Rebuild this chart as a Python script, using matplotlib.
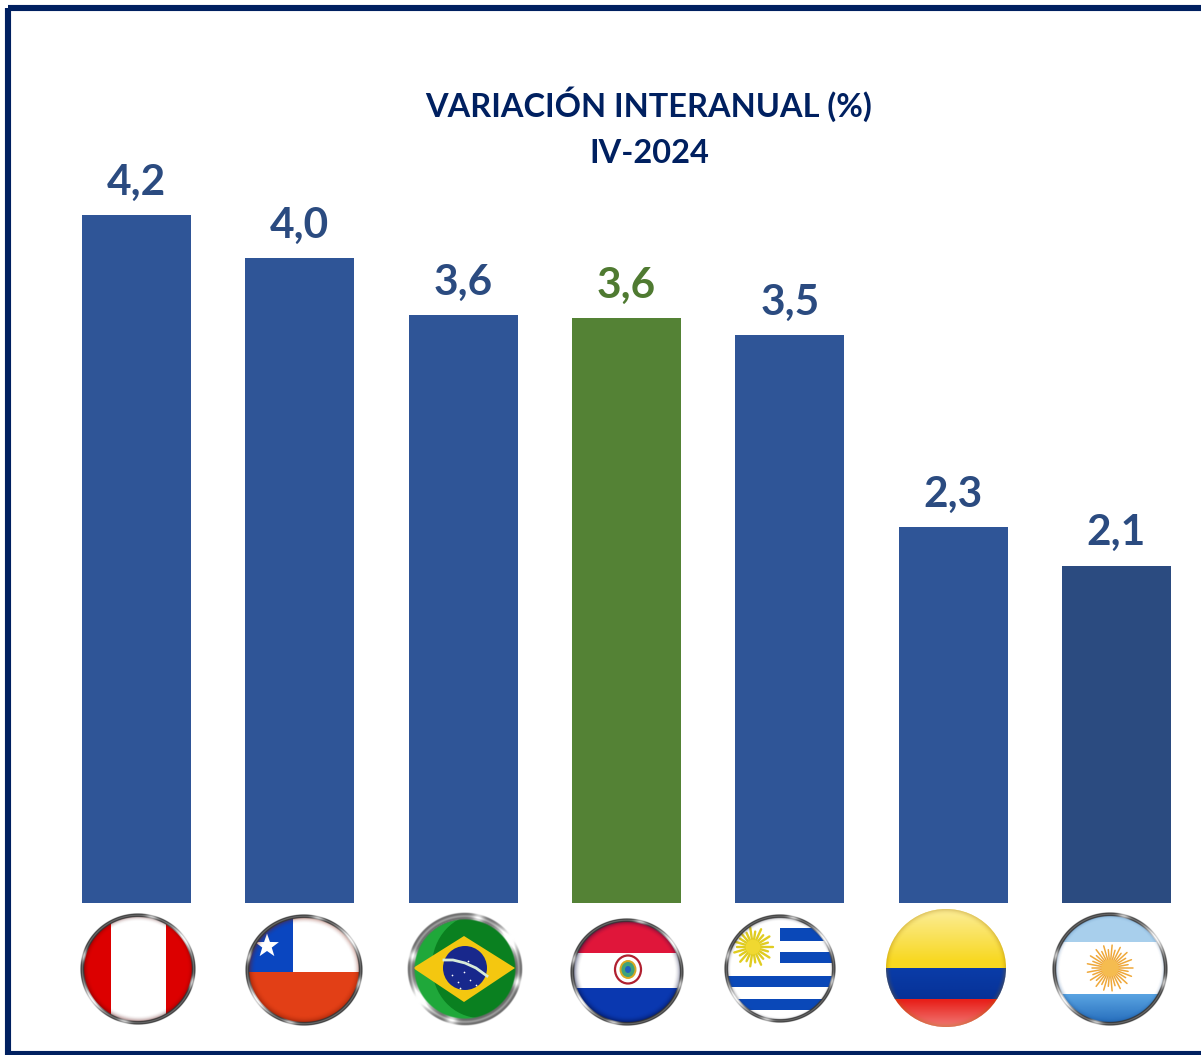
import matplotlib
matplotlib.use("Agg")
import matplotlib.pyplot as plt
import numpy as np
from matplotlib.patches import Circle, Ellipse, Polygon, Rectangle

# values as drawn (the labels are rounded, the bars are not)
countries = ["Perú", "Chile", "Brasil", "Paraguay", "Uruguay", "Colombia", "Argentina"]
values = [4.20, 3.94, 3.59, 3.57, 3.465, 2.295, 2.06]
labels = ["4,2", "4,0", "3,6", "3,6", "3,5", "2,3", "2,1"]
bar_colors = ["#2F5597", "#2F5597", "#2F5597", "#548235", "#2F5597", "#2F5597", "#2B4B80"]
label_colors = ["#2B4B80", "#2B4B80", "#2B4B80", "#4F7A31", "#2B4B80", "#2B4B80", "#2B4B80"]
title_lines = ["VARIACIÓN INTERANUAL (%)", "IV-2024"]

NAVY = "#002060"
W, H = 1201, 1055
plt.rcParams["font.family"] = ["Lato", "DejaVu Sans"]

fig = plt.figure(figsize=(W / 100, H / 100), dpi=100, facecolor="white")

# bars: x position 0 is at pixel 136.5, one step is 163.33 px, baseline at pixel 903
step = 163.33
ax = fig.add_axes([0, (H - 903) / H, 1, 903 / H])
ax.set_xlim(-136.5 / step, (W - 136.5) / step)
ax.set_ylim(0, 903 / 163.8)
ax.axis("off")
x = np.arange(len(values))
ax.bar(x, values, width=109 / step, color=bar_colors)
for i, v in enumerate(values):
    ax.annotate(labels[i], (i, v), xytext=(0, 14.5), textcoords="offset points", ha="center",
                va="baseline", fontsize=30.5, fontweight="bold", color=label_colors[i],
                annotation_clip=False)

# overlay in pixel coordinates for frame, title and flags
px = fig.add_axes([0, 0, 1, 1], zorder=5)
px.set_xlim(0, W)
px.set_ylim(H, 0)
px.axis("off")
px.patch.set_alpha(0)

px.add_patch(Rectangle((8, 8), W + 20, 1046, fill=False, ec=NAVY, lw=4.4))
px.text(649, 117, title_lines[0], ha="center", va="baseline", fontsize=23.4, fontweight="bold", color=NAVY)
px.text(649, 163, title_lines[1], ha="center", va="baseline", fontsize=23.4, fontweight="bold", color=NAVY)


def band(f, u0, u1, v0, v1, color):
    cx, cy, rx, ry, clip = f
    r = Rectangle((cx + u0 * rx, cy + v0 * ry), (u1 - u0) * rx, (v1 - v0) * ry, fc=color, ec="none", zorder=6)
    px.add_patch(r)
    r.set_clip_path(clip)


def vshade(f, v0, v1, color, a0, a1, zorder=6.5):
    # vertical fade over one stripe of the flag
    cx, cy, rx, ry, clip = f
    img = np.zeros((64, 1, 4))
    img[..., :3] = matplotlib.colors.to_rgb(color)
    img[..., 3] = np.linspace(a0, a1, 64)[:, None]
    im = px.imshow(img, extent=(cx - rx, cx + rx, cy + v1 * ry, cy + v0 * ry), zorder=zorder, aspect="auto",
                   interpolation="bilinear")
    im.set_clip_path(clip)


def vignette(f, color, start, amax, zorder=7):
    cx, cy, rx, ry, clip = f
    g = np.linspace(-1, 1, 160)
    xx, yy = np.meshgrid(g, g)
    rr = np.sqrt(xx ** 2 + yy ** 2)
    img = np.zeros((160, 160, 4))
    img[..., :3] = matplotlib.colors.to_rgb(color)
    img[..., 3] = np.clip((rr - start) / (1 - start), 0, 1) ** 2 * amax
    im = px.imshow(img, extent=(cx - rx, cx + rx, cy + ry, cy - ry), zorder=zorder, aspect="auto")
    im.set_clip_path(clip)


def ring(cx, cy, rx, ry, inner=0.925, base=0.2, mid=0.25):
    # metal rim: dark with bright glints, brightness follows the angle
    g = np.linspace(-1, 1, 400)
    xx, yy = np.meshgrid(g, g)
    rr = np.sqrt(xx ** 2 + yy ** 2)
    ang = np.arctan2(yy, xx)
    t = (rr - inner) / (1 - inner)
    light = base + 0.6 * np.cos(ang + 0.6) ** 24 + 0.4 * np.cos(2 * ang - 0.5) ** 40
    light = light + mid * np.exp(-((t - 0.5) / 0.15) ** 2)
    img = np.zeros((400, 400, 4))
    img[..., :3] = np.clip(light, 0, 1)[..., None]
    img[..., 3] = np.clip(np.minimum(t * 6, (1 - t) * 6), 0, 1)
    px.imshow(img, extent=(cx - rx, cx + rx, cy + ry, cy - ry), zorder=8, aspect="auto")


def start_flag(cx, cy, rx, ry, scale=0.95):
    clip = Ellipse((cx, cy), 2 * rx * scale, 2 * ry * scale, transform=px.transData)
    return (cx, cy, rx * scale, ry * scale, clip)


def sun(cx, cy, r, color, face, n=28, lw=1.0, zorder=7):
    for a in np.linspace(0, 2 * np.pi, n, endpoint=False):
        rr = r if round(a / (2 * np.pi) * n) % 2 == 0 else r * 0.8
        px.plot([cx + 0.3 * r * np.cos(a), cx + rr * np.cos(a)], [cy + 0.3 * r * np.sin(a), cy + rr * np.sin(a)],
                color=color, lw=lw, zorder=zorder, solid_capstyle="round")
    px.add_patch(Circle((cx, cy), 0.38 * r, fc=face, ec="none", zorder=zorder))


def star(cx, cy, r, color):
    a = -np.pi / 2 + np.arange(10) * np.pi / 5
    rad = np.where(np.arange(10) % 2 == 0, r, r * 0.4)
    px.add_patch(Polygon(np.c_[cx + rad * np.cos(a), cy + rad * np.sin(a)], fc=color, ec="none", zorder=7))


# Perú
f = start_flag(138, 969, 58, 56)
band(f, -1, -0.49, -1, 1, "#DC0000")
band(f, -0.49, 0.5, -1, 1, "white")
band(f, 0.5, 1, -1, 1, "#DC0000")
vignette(f, "#500000", 0.88, 0.5)
ring(138, 969, 58, 56)

# Chile
f = start_flag(304, 970, 59, 56)
band(f, -1, 1, -1, 0.03, "white")
band(f, -1, -0.19, -1, 0.03, "#0A46C0")
band(f, -1, 1, 0.03, 1, "#E23F16")
star(267, 946, 12.5, "white")
vignette(f, "#7A1500", 0.86, 0.6)
ring(304, 970, 59, 56)

# Brasil
f = start_flag(465, 969.5, 58, 57, scale=0.89)
band(f, -1, 1, -1, 1, "#1FA83A")
dk = Ellipse((480, 966), 96, 104, fc="#0A8020", ec="none", zorder=6)
px.add_patch(dk)
dk.set_clip_path(f[4])
px.add_patch(Polygon([(413, 968), (464, 936), (515, 968), (464, 1002)], fc="#F4C710", ec="none", zorder=6))
px.add_patch(Circle((465, 968), 22, fc="#18288C", ec="none", zorder=6))
px.plot([444, 453, 465, 476, 487], [960, 960, 963, 968, 976], color="#D8EBD8", lw=2.0, zorder=7)
px.scatter([452, 458, 464, 470, 476, 460, 468], [975, 982, 972, 980, 985, 988, 961], s=1.5, color="white", zorder=7, lw=0)
ring(465, 969.5, 58, 57, inner=0.86, base=0.42, mid=0.2)

# Paraguay
f = start_flag(627, 972, 57, 54)
band(f, -1, 1, -1, -0.38, "#E0163A")
band(f, -1, 1, -0.38, 0.31, "white")
band(f, -1, 1, 0.31, 1, "#0A38B0")
px.add_patch(Ellipse((628, 969.5), 26, 28, fc="white", ec="#B02030", lw=1.6, zorder=7))
px.add_patch(Ellipse((628, 969.5), 15, 17, fc="#3FA27A", ec="#D8A820", lw=1.4, zorder=7))
px.add_patch(Ellipse((628, 969.5), 6, 7, fc="#2060C0", ec="none", zorder=7))
vignette(f, "#00083A", 0.86, 0.6)
ring(627, 972, 57, 54)

# Uruguay
f = start_flag(780, 969, 56, 54.5)
band(f, -1, 1, -1, 1, "white")
band(f, 0.0, 1, -0.79, -0.55, "#0A48B8")
band(f, 0.0, 1, -0.32, -0.11, "#0A48B8")
band(f, -1, 1, 0.13, 0.35, "#0A48B8")
band(f, -1, 1, 0.58, 0.80, "#0A48B8")
sun(753, 947, 19.5, "#E0CC20", "#F0D830", n=22, lw=1.7)
vignette(f, "#303040", 0.92, 0.4)
ring(780, 969, 56, 54.5)

# Colombia, glossy and without a ring
f = start_flag(946, 968, 60, 59, scale=1.0)
band(f, -1, 1, -1, 0, "#F8D820")
band(f, -1, 1, 0, 0.52, "#0A3CA8")
band(f, -1, 1, 0.52, 1, "#E8201A")
vshade(f, -1, -0.1, "white", 0.55, 0.0)
vshade(f, 0.0, 0.52, "#001A70", 0.0, 0.3)
vshade(f, 0.55, 1, "white", 0.0, 0.4)
vignette(f, "#A07000", 0.9, 0.3)

# Argentina
f = start_flag(1110, 969, 58, 57)
band(f, -1, 1, -1, -0.5, "#A8CFEC")
band(f, -1, 1, -0.5, 0.47, "white")
band(f, -1, 1, 0.47, 1, "#5AA4E2")
vshade(f, 0.47, 1, "#0A50A8", 0.0, 0.65)
sun(1110, 968, 23, "#EFA83A", "#F5BC50", n=34, lw=1.1)
vignette(f, "#104C90", 0.9, 0.4)
ring(1110, 969, 58, 57)

px.set_xlim(0, W)
px.set_ylim(H, 0)
fig.savefig("out.png", dpi=100, facecolor="white")
